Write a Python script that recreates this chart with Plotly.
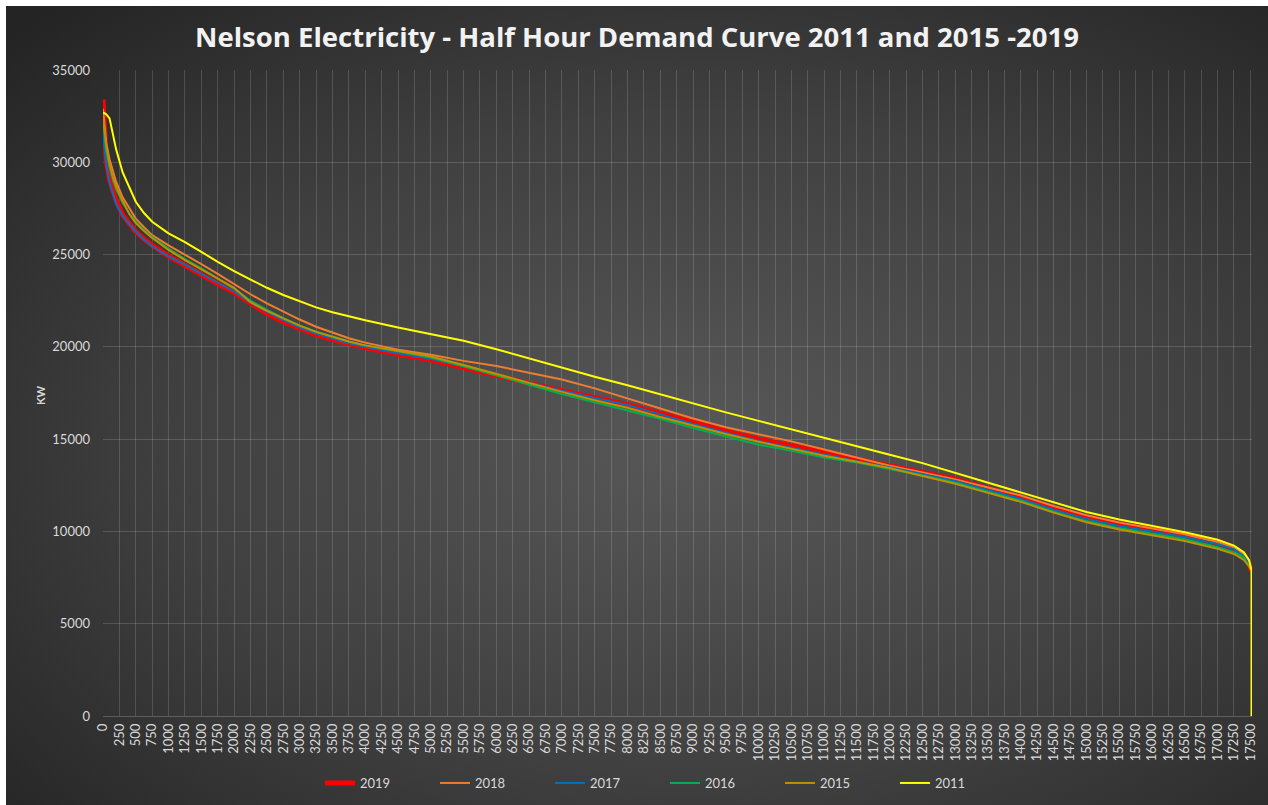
import base64
import plotly.graph_objects as go

# ---- data ----
half_hours = [0, 25, 50, 100, 150, 200, 300, 400, 500, 625, 750, 1000, 1250, 1500, 1750,
              2000, 2250, 2500, 2750, 3000, 3250, 3500, 3750, 4000, 4500, 5000, 5500,
              6000, 6500, 7000, 7500, 8000, 8500, 9000, 9500, 10000, 10500, 11000,
              11500, 12000, 12500, 13000, 13500, 14000, 14500, 15000, 15500, 16000,
              16500, 17000, 17250, 17400, 17480, 17519]

kw_2019 = [33400, 31900, 30100, 29050, 28450, 27950, 27150, 26650, 26250, 25850, 25500, 24920,
           24400, 23900, 23420, 22950, 22350, 21800, 21360, 21000, 20660, 20400, 20160,
           19960, 19600, 19300, 18880, 18430, 18020, 17620, 17250, 16870, 16390, 15880,
           15430, 15000, 14640, 14270, 13920, 13560, 13220, 12830, 12330, 11850, 11250,
           10780, 10400, 10080, 9780, 9390, 9080, 8760, 8250, 7850]

kw_2018 = [32900, 31900, 31050, 30150, 29500, 28950, 28100, 27500, 26950, 26480, 26050, 25500,
           25000, 24480, 23950, 23400, 22850, 22350, 21910, 21480, 21090, 20760, 20470,
           20230, 19840, 19570, 19240, 18960, 18600, 18230, 17750, 17220, 16650, 16120,
           15640, 15250, 14880, 14440, 14000, 13560, 13200, 12820, 12380, 11950, 11380,
           10880, 10480, 10170, 9850, 9430, 9130, 8770, 8300, 7900]

kw_2017 = [31600, 30700, 29900, 28900, 28250, 27750, 27100, 26700, 26250, 25820, 25450, 24900,
           24450, 23950, 23480, 23000, 22400, 21900, 21450, 21060, 20720, 20450, 20200,
           20000, 19650, 19350, 18950, 18500, 18060, 17620, 17230, 16850, 16340, 15820,
           15350, 14900, 14540, 14160, 13810, 13480, 13120, 12730, 12250, 11760, 11180,
           10680, 10300, 9990, 9700, 9320, 9040, 8660, 8250, 7900]

kw_2016 = [32300, 31400, 30600, 29750, 29050, 28550, 27800, 27250, 26780, 26330, 25950, 25320,
           24750, 24250, 23700, 23150, 22500, 22000, 21550, 21150, 20820, 20550, 20290,
           20080, 19740, 19420, 18950, 18430, 17950, 17450, 17000, 16550, 16100, 15600,
           15130, 14700, 14370, 14010, 13740, 13390, 13030, 12640, 12160, 11660, 11070,
           10560, 10180, 9880, 9580, 9160, 8880, 8600, 8150, 7900]

kw_2015 = [32400, 31600, 30900, 29900, 29200, 28700, 27900, 27200, 26700, 26270, 25900, 25250,
           24700, 24200, 23700, 23200, 22420, 21950, 21540, 21150, 20810, 20540, 20290,
           20080, 19760, 19480, 19020, 18520, 18060, 17560, 17110, 16700, 16200, 15720,
           15280, 14860, 14470, 14100, 13780, 13440, 13000, 12580, 12090, 11600, 11020,
           10500, 10100, 9780, 9480, 9060, 8780, 8460, 8100, 7850]

kw_2011 = [32700, 32650, 32600, 32380, 31600, 30700, 29450, 28650, 27860, 27250, 26780, 26150,
           25680, 25150, 24600, 24100, 23650, 23200, 22810, 22460, 22140, 21880, 21640,
           21440, 21050, 20700, 20330, 19870, 19370, 18880, 18380, 17920, 17420, 16930,
           16450, 15990, 15520, 15080, 14620, 14150, 13700, 13170, 12650, 12100, 11550,
           11050, 10650, 10300, 9950, 9550, 9230, 8880, 8450, 7900]
# 2011 series ends with a drop to zero at its last half hour
tail_2011_x = [17519]
tail_2011_kw = [0]

series_names = ["2019", "2018", "2017", "2016", "2015", "2011"]
series_colors = ["#FF0000", "#ED7D31", "#0070C0", "#00B050", "#BF9000", "#FFFF00"]
series_widths = [5, 2, 2, 2, 2, 2]

x_ticks = list(range(0, 17501, 250))
y_ticks = [0, 5000, 10000, 15000, 20000, 25000, 30000, 35000]

# ---- figure ----
W, H = 1262, 799
ML, MR, MT, MB = 97, 16, 64, 89
PW, PH = W - ML - MR, H - MT - MB

series_x = [half_hours] * 5 + [half_hours + tail_2011_x]
series_y = [kw_2019, kw_2018, kw_2017, kw_2016, kw_2015, kw_2011 + tail_2011_kw]

fig = go.Figure()
for name, col, wd, xs, ys in zip(series_names, series_colors, series_widths, series_x, series_y):
    fig.add_trace(go.Scatter(x=xs, y=ys, mode="lines", name=name,
                             line=dict(color=col, width=wd)))

svg = (
    f'<svg xmlns="http://www.w3.org/2000/svg" width="{W}" height="{H}" '
    f'viewBox="0 0 {W} {H}" preserveAspectRatio="none">'
    '<defs><radialGradient id="g" cx="55%" cy="55%" r="75%">'
    '<stop offset="0" stop-color="#585858"/>'
    '<stop offset="0.55" stop-color="#404040"/>'
    '<stop offset="1" stop-color="#242424"/>'
    '</radialGradient></defs>'
    f'<rect width="{W}" height="{H}" fill="url(#g)"/></svg>'
)
src = "data:image/svg+xml;base64," + base64.b64encode(svg.encode()).decode()

grid = "rgba(255,255,255,0.15)"
tick_font = dict(family="Lato, 'Open Sans', sans-serif", size=13, color="#D9D9D9")

fig.update_layout(
    width=W, height=H,
    margin=dict(l=ML, r=MR, t=MT, b=MB, autoexpand=False),
    paper_bgcolor="#333333",
    plot_bgcolor="rgba(0,0,0,0)",
    images=[dict(source=src, xref="paper", yref="paper",
                 x=-ML / PW, y=1 + MT / PH, sizex=W / PW, sizey=H / PH,
                 xanchor="left", yanchor="top", sizing="stretch", layer="below")],
    title=dict(text="<b>Nelson Electricity - Half Hour Demand Curve 2011 and 2015 -2019</b>",
               x=0.5, xanchor="center", xref="container",
               y=1 - 31 / H, yanchor="middle", yref="container",
               font=dict(family="'Open Sans', Lato, sans-serif", size=27.5, color="#F2F2F2")),
    showlegend=True,
    legend=dict(orientation="h", x=(320 - 103) / PW, xanchor="left",
                y=(710 - 777) / PH, yanchor="middle",
                entrywidth=70, entrywidthmode="pixels",
                font=dict(family="Lato, 'Open Sans', sans-serif", size=13, color="#D9D9D9"),
                bgcolor="rgba(0,0,0,0)", traceorder="normal"),
    annotations=[dict(text="<b>KW</b>", xref="paper", yref="paper",
                      x=(40 - 103) / PW, y=(710 - 389) / PH, textangle=-90,
                      showarrow=False, xanchor="center", yanchor="middle",
                      font=dict(family="Lato, 'Open Sans', sans-serif", size=11, color="#D9D9D9"))],
)

fig.update_xaxes(range=[0, 17525], tickmode="array", tickvals=x_ticks,
                 ticktext=[str(v) for v in x_ticks], tickangle=-90,
                 tickfont=tick_font, showgrid=True, gridcolor=grid, gridwidth=1,
                 zeroline=False, showline=False, ticks="", automargin=False,
                 ticklabelstandoff=4)
fig.update_yaxes(range=[0, 35000], tickmode="array", tickvals=y_ticks,
                 ticktext=[str(v) for v in y_ticks],
                 tickfont=tick_font, showgrid=True, gridcolor=grid, gridwidth=1,
                 zeroline=True, zerolinecolor="rgba(255,255,255,0.2)", zerolinewidth=1,
                 showline=False, ticks="", automargin=False, ticklabelstandoff=12)

fig.write_html("out.html",
               post_script="document.body.style.margin='6px 0 0 6px';"
                           "document.body.style.overflow='hidden';"
                           "document.body.style.background='#ffffff';")
